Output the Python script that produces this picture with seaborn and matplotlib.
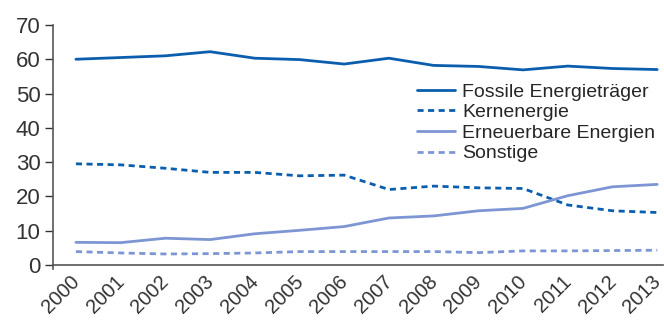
import pandas as pd
import matplotlib.pyplot as plt
import matplotlib.transforms as mtransforms
import seaborn as sns

years = list(range(2000, 2014))
fossil = [60.0, 60.5, 61.0, 62.2, 60.3, 59.9, 58.6, 60.3, 58.2, 57.9, 56.9, 58.0, 57.3, 57.0]
kern = [29.5, 29.2, 28.2, 27.0, 27.0, 26.0, 26.2, 22.0, 23.0, 22.5, 22.3, 17.5, 15.8, 15.3]
erneuerbar = [6.6, 6.5, 7.8, 7.4, 9.1, 10.1, 11.2, 13.7, 14.3, 15.8, 16.5, 20.2, 22.8, 23.5]
sonstige = [3.9, 3.5, 3.2, 3.3, 3.5, 3.9, 3.9, 3.9, 3.9, 3.6, 4.1, 4.1, 4.2, 4.3]
names = ["Fossile Energieträger", "Kernenergie", "Erneuerbare Energien", "Sonstige"]

df = pd.concat([
    pd.DataFrame({"Jahr": years, "Anteil": vals, "Traeger": n})
    for n, vals in zip(names, [fossil, kern, erneuerbar, sonstige])
])

sns.set_style("white")
plt.rcParams['font.family'] = ['Liberation Sans', 'DejaVu Sans']

dark = "#0b5eae"
light = "#7d96d3"
palette = {names[0]: dark, names[1]: dark, names[2]: light, names[3]: light}
dashes = {names[0]: "", names[1]: (2.2, 1.6), names[2]: "", names[3]: (2.2, 1.6)}

fig = plt.figure(figsize=(6.64, 3.2), dpi=100)
ax = fig.add_axes([0.08, 0.172, 0.9185, 0.75])

sns.lineplot(data=df, x="Jahr", y="Anteil", hue="Traeger", style="Traeger",
             palette=palette, dashes=dashes, linewidth=2.0, ax=ax)

ax.set_xlim(1999.49, 2013.13)
ax.set_ylim(0, 70)
ax.set_yticks(range(0, 71, 10))
ax.set_xticks(years)
ax.set_xticklabels([str(y) for y in years], rotation=45, ha='right',
                   rotation_mode='anchor', fontsize=14.5, color="#333333")
ax.tick_params(axis='y', labelsize=16, labelcolor="#333333", length=6,
               width=1, color="#333333", direction='out', left=True, pad=3)
ax.tick_params(axis='x', length=0, pad=5)
ax.set_xlabel("")
ax.set_ylabel("")

# nudge the rotated year labels left so that 2013 stays inside the figure
shift = mtransforms.ScaledTranslation(-6 / 100, 0, fig.dpi_scale_trans)
for lbl in ax.get_xticklabels():
    lbl.set_transform(lbl.get_transform() + shift)

for s in ["top", "right"]:
    ax.spines[s].set_visible(False)
for s in ["left", "bottom"]:
    ax.spines[s].set_color("#555555")
    ax.spines[s].set_linewidth(1.2)
# y axis line pokes a little below the x axis, as in the original
ax.spines["left"].set_bounds(-1.3, 70)

ax.legend(loc='upper right', bbox_to_anchor=(1.0, 0.79), frameon=False,
          fontsize=14, handlelength=2.0, handletextpad=0.35,
          labelspacing=0.15, borderaxespad=0)

fig.savefig("out.png", dpi=100)
